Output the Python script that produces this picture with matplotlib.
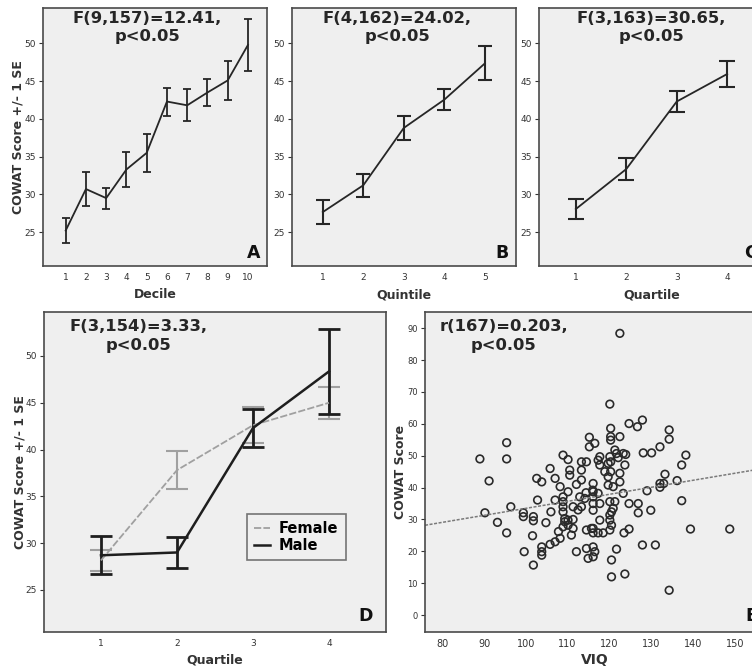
import numpy as np
import matplotlib.pyplot as plt
from matplotlib.transforms import offset_copy

# panel A-C: group means +/- 1 SE
decile = [1, 2, 3, 4, 5, 6, 7, 8, 9, 10]
decile_mean = [25.2, 30.7, 29.5, 33.3, 35.5, 42.3, 41.8, 43.5, 45.1, 49.8]
decile_se = [1.7, 2.3, 1.4, 2.35, 2.55, 1.85, 2.1, 1.8, 2.6, 3.4]

quintile = [1, 2, 3, 4, 5]
quintile_mean = [27.65, 31.2, 38.8, 42.55, 47.35]
quintile_se = [1.55, 1.5, 1.6, 1.35, 2.25]

quartile = [1, 2, 3, 4]
quartile_mean = [28.05, 33.35, 42.3, 45.95]
quartile_se = [1.35, 1.45, 1.4, 1.75]

# panel D: by sex
female_mean = [28.15, 37.8, 42.6, 45.0]
female_se = [1.15, 2.0, 1.9, 1.7]
male_mean = [28.7, 29.0, 42.3, 48.35]
male_se = [2.05, 1.65, 2.0, 4.55]

# panel E: VIQ vs COWAT
viq = [89.0, 90.2, 91.2, 93.2, 95.4, 95.4, 95.4, 96.4, 99.4, 99.4,
       101.8, 101.8, 99.6, 101.8, 101.6, 102.6, 103.8, 102.8, 103.8, 103.8,
       103.8, 104.8, 105.8, 106.0, 105.8, 107.0, 107.0, 107.0, 107.8, 108.2,
       108.9, 110.1, 110.5, 110.5, 108.9, 108.9, 108.9, 108.9, 109.3, 109.3,
       110.1, 110.1, 108.9, 108.2, 110.9, 111.3, 112.1, 112.1, 113.3, 113.3,
       114.5, 112.9, 114.1, 113.3, 114.5, 114.5, 114.9, 114.4, 115.2, 115.2,
       115.7, 116.0, 116.1, 116.1, 117.3, 116.1, 116.1, 116.1, 116.5, 117.3,
       117.7, 116.1, 116.1, 117.3, 118.5, 116.1, 116.5, 116.1, 119.7, 120.1,
       119.7, 119.7, 120.9, 120.1, 120.3, 120.3, 120.3, 120.3, 120.3, 120.1,
       121.3, 120.9, 120.5, 120.1, 120.1, 120.5, 120.1, 120.5, 120.5, 121.3,
       121.7, 121.7, 122.5, 122.5, 122.5, 122.5, 123.3, 123.3, 123.7, 123.9,
       123.7, 123.5, 124.7, 124.7, 124.7, 126.7, 126.9, 126.9, 127.9, 128.1,
       127.9, 129.0, 130.1, 129.9, 131.0, 132.1, 132.1, 132.1, 133.0, 133.3,
       134.3, 134.3, 134.3, 136.2, 137.3, 137.3, 138.3, 139.4, 148.8, 110.1,
       111.3, 117.7, 118.9, 113.3, 122.1, 117.7, 117.7, 111.3, 112.5]
cowat = [49.0, 32.1, 42.1, 29.1, 54.1, 49.0, 25.8, 34.0, 32.1, 30.9,
         30.9, 29.6, 19.9, 15.7, 24.9, 42.9, 41.8, 36.1, 21.4, 19.9,
         18.8, 29.0, 46.0, 32.4, 22.2, 42.9, 36.1, 23.0, 26.2, 40.3,
         50.2, 48.8, 45.5, 43.9, 37.1, 35.6, 34.0, 32.4, 30.3, 29.3,
         29.8, 28.2, 27.7, 24.1, 25.1, 30.0, 19.9, 41.0, 48.1, 45.5,
         48.1, 37.1, 36.6, 34.0, 26.7, 20.9, 17.8, 38.4, 55.8, 52.8,
         27.2, 39.2, 41.3, 38.7, 38.2, 37.1, 35.0, 32.9, 53.9, 48.6,
         47.1, 27.2, 25.8, 25.8, 25.8, 21.4, 19.9, 18.3, 47.6, 49.7,
         43.4, 40.8, 40.3, 66.2, 58.6, 56.0, 54.9, 48.1, 45.0, 35.6,
         35.6, 33.5, 32.4, 31.4, 29.8, 28.2, 26.7, 17.3, 12.0, 51.8,
         50.7, 20.7, 88.4, 56.0, 44.5, 41.8, 50.7, 38.2, 47.1, 50.4,
         12.9, 25.8, 27.0, 60.1, 35.0, 59.1, 35.0, 32.1, 61.2, 50.9,
         22.0, 39.0, 50.9, 32.9, 22.0, 52.8, 41.3, 40.1, 41.3, 44.2,
         58.1, 55.2, 7.8, 42.2, 47.1, 35.9, 50.2, 27.0, 27.0, 38.7,
         34.0, 49.7, 45.0, 42.4, 49.4, 35.0, 29.8, 27.2, 33.0]
fit_intercept = 11.5
fit_slope = 0.22

W, H = 752, 671
fig = plt.figure(figsize=(W / 100, H / 100), dpi=100)
fig.patch.set_facecolor('white')

BG = '#efefef'
INK = '#262626'


def panel(l, t, r, b):
    # axes placed in pixel coordinates of the figure
    ax = fig.add_axes([l / W, 1 - b / H, (r - l) / W, (b - t) / H])
    ax.set_facecolor(BG)
    for s in ax.spines.values():
        s.set_color('#4a4a4a')
        s.set_linewidth(1.2)
    ax.tick_params(axis='both', direction='out', colors='#333333', labelsize=6.5,
                   length=3, width=0.8, pad=2)
    return ax


def finish(ax, title, tx, letter, letter_dx, xlabel, ylabel, ylab_x, xlab_y):
    ax.text(tx, 0.925, title, transform=ax.transAxes, ha='center', va='center',
            fontsize=11.8, fontweight='bold', color=INK, linespacing=1.3)
    # panel letter, a few pixels in from the lower right corner
    tr = offset_copy(ax.transAxes, fig=fig, x=-letter_dx * 0.72, y=0, units='points')
    ax.text(1.0, 0.05, letter, transform=tr, ha='right', va='center',
            fontsize=12.5, fontweight='bold', color='#111111')
    ax.set_xlabel(xlabel, fontsize=9, fontweight='bold', color='#333333')
    ax.xaxis.set_label_coords(0.5, xlab_y)
    ax.xaxis.label.set_va('center')
    if ylabel:
        ax.set_ylabel(ylabel, fontsize=9, fontweight='bold', color='#333333')
        ax.yaxis.set_label_coords(ylab_x, 0.5)
        ax.yaxis.label.set_va('center')


ylim = (20.5, 54.7)
yt = [25, 30, 35, 40, 45, 50]

# A
ax = panel(43, 8, 267, 266)
ax.errorbar(decile, decile_mean, yerr=decile_se, color=INK, lw=1.3,
            elinewidth=1.3, capsize=3, capthick=1.3)
ax.set_xlim(-0.12, 10.94)
ax.set_ylim(*ylim)
ax.set_xticks(decile)
ax.set_yticks(yt)
ax.tick_params(axis='x', length=0, pad=5)
finish(ax, 'F(9,157)=12.41,\np<0.05', 0.465, 'A', 7, 'Decile',
       'COWAT Score +/- 1 SE', -0.112, -0.112)

# B
ax = panel(292, 8, 516, 266)
ax.errorbar(quintile, quintile_mean, yerr=quintile_se, color=INK, lw=1.3,
            elinewidth=1.5, capsize=5, capthick=1.5)
ax.set_xlim(0.24, 5.77)
ax.set_ylim(*ylim)
ax.set_xticks(quintile)
ax.set_yticks(yt)
ax.tick_params(axis='x', length=0, pad=5)
finish(ax, 'F(4,162)=24.02,\np<0.05', 0.47, 'B', 7, 'Quintile', None, 0, -0.112)

# C (cut at the right edge of the picture)
ax = panel(539, 8, 764, 266)
ax.errorbar(quartile, quartile_mean, yerr=quartile_se, color=INK, lw=1.3,
            elinewidth=1.5, capsize=6, capthick=1.5)
ax.set_xlim(0.27, 4.73)
ax.set_ylim(*ylim)
ax.set_xticks(quartile)
ax.set_yticks(yt)
ax.tick_params(axis='x', length=0, pad=5)
finish(ax, 'F(3,163)=30.65,\np<0.05', 0.5, 'C', 7, 'Quartile', None, 0, -0.112)

# D
ax = panel(44, 312, 386, 632)
ax.errorbar(quartile, female_mean, yerr=female_se, color='#a0a0a0', lw=1.3,
            ls=(0, (4, 1.2)), elinewidth=1.5, capsize=8, capthick=1.5,
            label='Female')
ax.errorbar(quartile, male_mean, yerr=male_se, color='#1e1e1e', lw=1.8,
            elinewidth=2.0, capsize=8, capthick=2.0, label='Male')
ax.set_xlim(0.25, 4.75)
ax.set_ylim(*ylim)
ax.set_xticks(quartile)
ax.set_yticks(yt)
ax.tick_params(axis='x', length=0, pad=5)
handles, labels = ax.get_legend_handles_labels()
handles = [h[0] for h in handles]
leg = ax.legend(handles, labels, loc='center', bbox_to_anchor=(0.738, 0.297),
                prop={'weight': 'bold', 'size': 10.5}, frameon=True, fancybox=False,
                handlelength=1.1, handletextpad=0.6, borderpad=0.5,
                labelspacing=0.1, facecolor=BG, edgecolor='#555555')
leg.get_frame().set_linewidth(1.2)
finish(ax, 'F(3,154)=3.33,\np<0.05', 0.275, 'D', 13, 'Quartile',
       'COWAT Score +/- 1 SE', -0.07, -0.087)

# E
ax = panel(425, 312, 764, 632)
ax.scatter(viq, cowat, s=30, facecolors='none', edgecolors='#2a2a2a', linewidths=1.2)
xl = np.array([75.86, 157.0])
ax.plot(xl, fit_intercept + fit_slope * xl, color='#7a7a7a', lw=1.1, ls=(0, (2, 1)))
ax.set_xlim(*xl)
ax.set_ylim(-5.3, 95.1)
ax.set_xticks([80, 90, 100, 110, 120, 130, 140, 150])
ax.set_yticks([0, 10, 20, 30, 40, 50, 60, 70, 80, 90])
ax.tick_params(axis='y', labelsize=6)
ax.tick_params(axis='x', length=0, pad=5, labelsize=7)
finish(ax, 'r(167)=0.203,\np<0.05', 0.233, 'E', 7, 'VIQ', 'COWAT Score', -0.072, -0.087)
ax.xaxis.label.set_fontsize(10)

fig.savefig('out.png', dpi=100, facecolor='white')
